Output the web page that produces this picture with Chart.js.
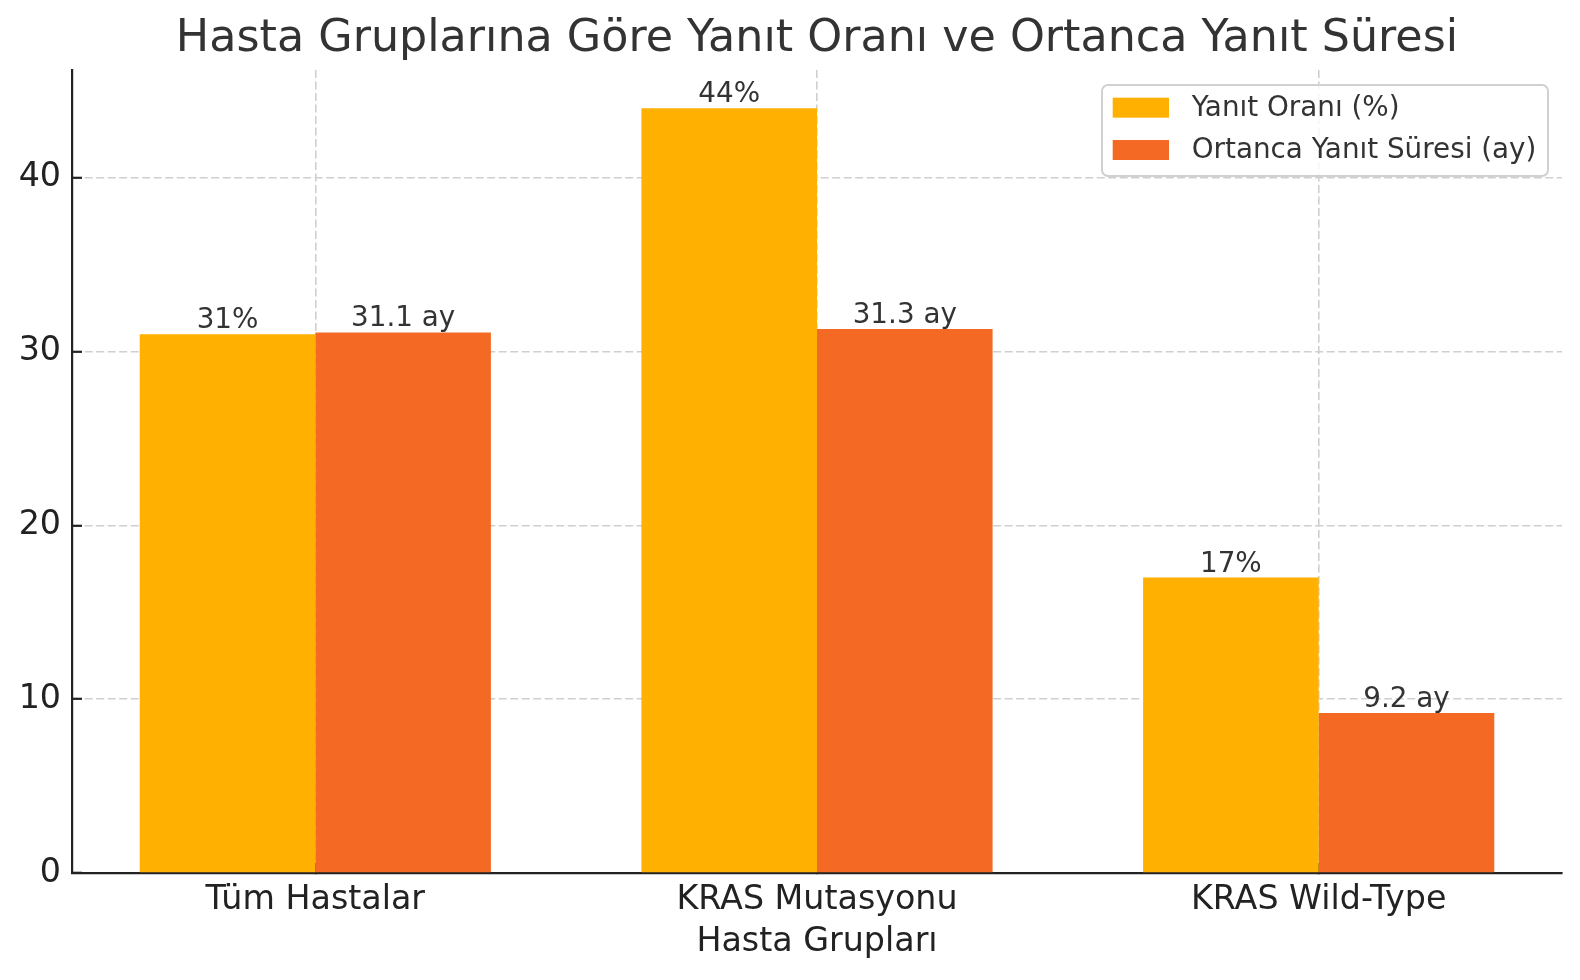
<!DOCTYPE html>
<html>
<head>
<meta charset="utf-8">
<script src="https://cdn.jsdelivr.net/npm/chart.js@4.4.1/dist/chart.umd.min.js"></script>
<style>
    html, body { margin: 0; padding: 0; background: #fff; overflow: hidden; }
    #wrap { width: 100vw; height: 100vh; }
    canvas { display: block; }
</style>
</head>
<body>
<div id="wrap"><canvas id="responseChart"></canvas></div>
<script>
const groups = ['Tüm Hastalar', 'KRAS Mutasyonu', 'KRAS Wild-Type'];
const responseRate = [31, 44, 17];
const medianDuration = [31.1, 31.3, 9.2];
const seriesNames = ['Yanıt Oranı (%)', 'Ortanca Yanıt Süresi (ay)'];
const yTicks = [0, 10, 20, 30, 40];

const FONT = "'DejaVu Sans', sans-serif";

// value labels over each bar
const barLabels = {
    id: 'barLabels',
    afterDraw(chart) {
        const { ctx } = chart;
        ctx.save();
        ctx.font = `27.8px ${FONT}`;
        ctx.fillStyle = '#333333';
        ctx.textAlign = 'center';
        ctx.textBaseline = 'alphabetic';
        chart.data.datasets.forEach((ds, i) => {
            chart.getDatasetMeta(i).data.forEach((bar, j) => {
                const v = ds.data[j];
                const txt = i === 0 ? v + '%' : v + ' ay';
                ctx.fillText(txt, bar.x, bar.y - 6);
            });
        });
        ctx.restore();
    }
};

// legend box inside the plot, top right
const insideLegend = {
    id: 'insideLegend',
    afterDraw(chart) {
        const { ctx, chartArea: { right, top } } = chart;
        const boxW = 446, boxH = 91;
        const x0 = right - 14 - boxW, y0 = top + 15;
        ctx.save();
        ctx.fillStyle = 'rgba(255,255,255,0.8)';
        ctx.strokeStyle = '#d0d0d0';
        ctx.lineWidth = 2;
        ctx.beginPath();
        ctx.roundRect(x0, y0, boxW, boxH, 6);
        ctx.fill();
        ctx.stroke();
        ctx.font = `27.8px ${FONT}`;
        ctx.textAlign = 'left';
        ctx.textBaseline = 'middle';
        chart.data.datasets.forEach((ds, i) => {
            const cy = y0 + 22.7 + i * 42.3;
            ctx.fillStyle = ds.backgroundColor;
            ctx.fillRect(x0 + 10.7, cy - 10, 56.3, 20);
            ctx.fillStyle = '#333333';
            ctx.fillText(ds.label, x0 + 89.7, cy + 1);
        });
        ctx.restore();
    }
};

const config = {
    type: 'bar',
    data: {
        labels: groups,
        datasets: [{
            label: seriesNames[0],
            data: responseRate,
            backgroundColor: '#FFB000',
            categoryPercentage: 0.7,
            barPercentage: 1.0
        }, {
            label: seriesNames[1],
            data: medianDuration,
            backgroundColor: '#F46A25',
            categoryPercentage: 0.7,
            barPercentage: 1.0
        }]
    },
    options: {
        responsive: true,
        maintainAspectRatio: false,
        animation: false,
        layout: {
            padding: { left: 18, right: 18, top: 8, bottom: 18 }
        },
        plugins: {
            legend: { display: false },
            tooltip: { enabled: false },
            title: {
                display: true,
                fullSize: false,
                text: 'Hasta Gruplarına Göre Yanıt Oranı ve Ortanca Yanıt Süresi',
                color: '#333333',
                font: { family: FONT, size: 44.4, weight: 'normal' },
                padding: { top: 5, bottom: 3.7 }
            }
        },
        scales: {
            x: {
                z: 1,
                // tighter side margins than the default half category
                afterBuildTicks(scale) {
                    scale._startValue = -0.485;
                    scale._valueRange = groups.length - 1 + 0.97;
                },
                afterFit(scale) {
                    scale.height = 89;
                },
                grid: {
                    offset: false,
                    color: '#cfcfcf',
                    lineWidth: 1.6,
                    tickColor: '#222222',
                    tickLength: -10,
                    tickWidth: 2.2
                },
                border: { display: true, color: '#222222', width: 2.2, dash: [8, 3.5] },
                ticks: {
                    color: '#222222',
                    font: { family: FONT, size: 33.3 },
                    padding: 17
                },
                title: {
                    display: true,
                    text: 'Hasta Grupları',
                    color: '#222222',
                    font: { family: FONT, size: 33.3 },
                    padding: { top: 3, bottom: 0 }
                }
            },
            y: {
                z: 1,
                min: 0,
                max: 46.2,
                afterBuildTicks(scale) {
                    scale.ticks = yTicks.map(v => ({ value: v }));
                },
                afterFit(scale) {
                    scale.width = 54;
                },
                grid: {
                    color: '#cfcfcf',
                    lineWidth: 1.6,
                    tickColor: '#222222',
                    tickLength: -10,
                    tickWidth: 2.2
                },
                border: { display: true, color: '#222222', width: 2.2, dash: [8, 3.5] },
                ticks: {
                    color: '#222222',
                    font: { family: FONT, size: 33.3 },
                    padding: 21
                }
            }
        }
    },
    plugins: [barLabels, insideLegend]
};

new Chart(document.getElementById('responseChart'), config);
</script>
</body>
</html>
